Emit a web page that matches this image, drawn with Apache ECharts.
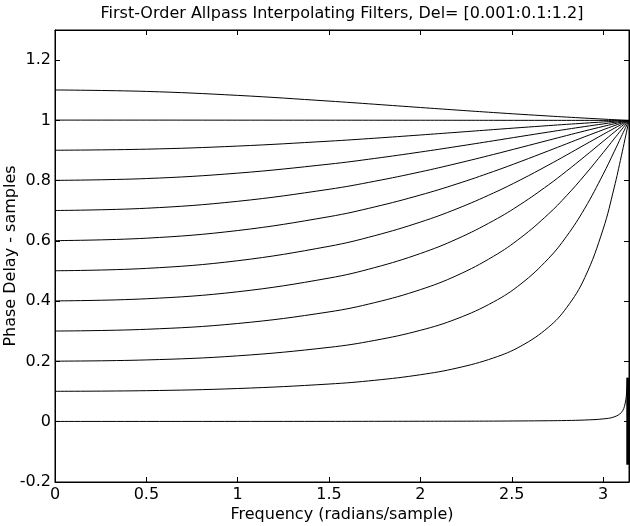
<!DOCTYPE html>
<html>
<head>
<meta charset="utf-8">
<script src="https://cdn.jsdelivr.net/npm/echarts@6/dist/echarts.min.js"></script>
<style>html,body{margin:0;padding:0;background:#fff;}#c{width:630px;height:526px;}</style>
</head>
<body>
<div id="c"></div>
<script>
// Frequency grid (radians/sample)
const freq = [0, 0.5, 1.0, 1.5, 1.75, 2.0, 2.2, 2.4, 2.55, 2.7, 2.8, 2.9, 3.0, 3.06, 3.1, 3.12, 3.1416];
// grid for the Del = 0.001 curve
const freqLow = [0, 0.5, 1.0, 1.5, 1.75, 2.0, 2.2, 2.4, 2.55, 2.7, 2.8, 2.9, 3.0, 3.06, 3.1, 3.12, 3.13, 3.133];
const delays = [0.001, 0.101, 0.201, 0.301, 0.401, 0.501, 0.601, 0.701, 0.801, 0.901, 1.001, 1.101];

const pd0  = [0.001, 0.001, 0.0011, 0.0012, 0.0014, 0.0016, 0.0018, 0.0021, 0.0026, 0.0033, 0.0041, 0.0057, 0.0094, 0.016, 0.031, 0.059, 0.109, 0.146];
const pd0Tail = [[3.135, 0.146], [3.135, -0.143]];
const pd1  = [0.101, 0.1031, 0.1102, 0.1251, 0.1375, 0.1560, 0.1781, 0.2118, 0.2510, 0.3132, 0.3784, 0.4786, 0.6391, 0.7756, 0.8824, 0.9387, 1];
const pd2  = [0.201, 0.2051, 0.2187, 0.2468, 0.2699, 0.3034, 0.3419, 0.3976, 0.4573, 0.5410, 0.6154, 0.7086, 0.8211, 0.8957, 0.9469, 0.9725, 1];
const pd3  = [0.301, 0.3068, 0.3260, 0.3645, 0.3953, 0.4384, 0.4855, 0.5490, 0.6112, 0.6889, 0.7503, 0.8189, 0.8929, 0.9386, 0.9689, 0.9839, 1];
const pd4  = [0.401, 0.4081, 0.4313, 0.4767, 0.5116, 0.5583, 0.6066, 0.6674, 0.7223, 0.7856, 0.8319, 0.8806, 0.9305, 0.9604, 0.9800, 0.9897, 1];
const pd5  = [0.501, 0.5089, 0.5343, 0.5822, 0.6175, 0.6626, 0.7068, 0.7591, 0.8034, 0.8516, 0.8852, 0.9194, 0.9535, 0.9735, 0.9866, 0.9931, 1];
const pd6  = [0.601, 0.6091, 0.6345, 0.6805, 0.7129, 0.7524, 0.7892, 0.8305, 0.8639, 0.8988, 0.9224, 0.9459, 0.9689, 0.9823, 0.9911, 0.9954, 1];
const pd7  = [0.701, 0.7085, 0.7315, 0.7714, 0.7981, 0.8292, 0.8571, 0.8870, 0.9104, 0.9340, 0.9497, 0.9651, 0.9800, 0.9886, 0.9943, 0.9970, 1];
const pd8  = [0.801, 0.8070, 0.8250, 0.8548, 0.8738, 0.8951, 0.9134, 0.9324, 0.9469, 0.9612, 0.9705, 0.9796, 0.9883, 0.9934, 0.9967, 0.9983, 1];
const pd9  = [0.901, 0.9045, 0.9148, 0.9311, 0.9409, 0.9516, 0.9605, 0.9695, 0.9762, 0.9827, 0.9869, 0.9909, 0.9948, 0.9971, 0.9985, 0.9992, 1];
const pd10 = [1.001, 1.001, 1.0008, 1.0007, 1.0006, 1.0005, 1.0004, 1.0003, 1.0002, 1.0002, 1.0001, 1.0001, 1.0, 1.0, 1.0, 1.0, 1];
const pd11 = [1.101, 1.0962, 1.0830, 1.0641, 1.0536, 1.0428, 1.0343, 1.0261, 1.0202, 1.0146, 1.0110, 1.0076, 1.0043, 1.0024, 1.0012, 1.0006, 1];

const xTicks = [0, 0.5, 1, 1.5, 2, 2.5, 3];
const yTicks = [-0.2, 0, 0.2, 0.4, 0.6, 0.8, 1, 1.2];
const titleText = 'First-Order Allpass Interpolating Filters, Del= [0.001:0.1:1.2]';
const xName = 'Frequency (radians/sample)';
const yName = 'Phase Delay - samples';

const FONT = 'DejaVu Sans';
const pair = (xs, ys) => ys.map((v, i) => [xs[i], v]);
const curves = [pair(freqLow, pd0), pd1, pd2, pd3, pd4, pd5, pd6, pd7, pd8, pd9, pd10, pd11]
  .map((c, i) => i === 0 ? c : pair(freq, c));

const near = (v, arr) => arr.some(t => Math.abs(t - v) < 1e-6);
const fmt = v => String(Math.round(v * 10) / 10);

const series = curves.map((d, i) => ({
  type: 'line', name: 'Del ' + delays[i], data: d, showSymbol: false,
  smooth: 0.4,
  lineStyle: { color: '#000', width: 1 }, silent: true
}));
series.push({
  type: 'line', data: pd0Tail, showSymbol: false,
  lineStyle: { color: '#000', width: 3 }, silent: true
});

const axisCommon = {
  type: 'value',
  splitLine: { show: false },
  nameMoveOverlap: false,
  axisLine: { show: true, onZero: false, lineStyle: { color: '#000', width: 1 } },
  axisTick: { show: true, inside: true, length: 5, lineStyle: { color: '#000' } }
};

const chart = echarts.init(document.getElementById('c'), null, { renderer: 'canvas' });
chart.setOption({
  animation: false,
  backgroundColor: '#fff',
  title: {
    text: titleText, left: 337, top: 1, textAlign: 'center',
    textStyle: { fontFamily: FONT, fontSize: 16, fontWeight: 'normal', color: '#000' }
  },
  grid: { left: 55, right: 1, top: 30, bottom: 44, outerBoundsMode: 'none', containLabel: false,
    show: true, borderColor: '#000', borderWidth: 1, backgroundColor: '#fff' },
  xAxis: [
    Object.assign({}, axisCommon, {
      min: 0, max: Math.PI, interval: 0.5, position: 'bottom',
      name: xName, nameLocation: 'middle', nameGap: 25,
      nameTextStyle: { fontFamily: FONT, fontSize: 16, color: '#000' },
      axisLabel: { fontFamily: FONT, fontSize: 16, color: '#000', margin: 5,
        formatter: v => near(v, xTicks) ? fmt(v) : '' }
    }),
    Object.assign({}, axisCommon, {
      min: 0, max: Math.PI, interval: 0.5, position: 'top',
      axisLabel: { show: false }
    })
  ],
  yAxis: [
    Object.assign({}, axisCommon, {
      min: -0.2, max: 1.3, interval: 0.2, position: 'left',
      name: yName, nameLocation: 'middle', nameGap: 36,
      nameTextStyle: { fontFamily: FONT, fontSize: 16, color: '#000' },
      axisLabel: { fontFamily: FONT, fontSize: 16, color: '#000', margin: 4,
        formatter: v => near(v, yTicks) ? fmt(v) : '' }
    }),
    Object.assign({}, axisCommon, {
      min: -0.2, max: 1.3, interval: 0.2, position: 'right',
      axisLabel: { show: false }
    })
  ],
  series: series
});
</script>
</body>
</html>
